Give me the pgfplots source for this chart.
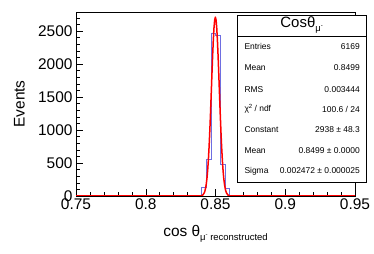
\documentclass[border=0pt]{standalone}
\usepackage{pgfplots}
\pgfplotsset{compat=1.18}
\usepackage{fontspec}
\setmainfont{Liberation Sans}
\begin{document}
\begin{tikzpicture}
\path[use as bounding box] (0,0) rectangle (374bp,254bp);
\begin{axis}[
  at={(76bp,58bp)}, anchor=south west,
  scale only axis, width=279bp, height=184bp,
  xmin=0.75, xmax=0.95, ymin=0, ymax=2788,
  axis line style={black, line width=0.7bp},
  xtick={0.75,0.8,0.85,0.9,0.95},
  xticklabels={0.75,0.8,0.85,0.9,0.95},
  ytick={0,500,1000,1500,2000,2500},
  yticklabels={0,500,1000,1500,2000,2500},
  minor x tick num=4,
  minor ytick={100,200,300,400,600,700,800,900,1100,1200,1300,1400,1600,1700,1800,1900,2100,2200,2300,2400,2600,2700},
  tick align=inside, xtick pos=bottom, ytick pos=left,
  major tick length=7bp, minor tick length=3.5bp,
  tick style={black, line width=0.5bp},
  /pgf/number format/assume math mode=true,
  tick label style={font=\fontsize{15.5}{17}\selectfont},
  xticklabel style={yshift=1bp},
  xlabel={cos θ\raisebox{-4.5bp}{\fontsize{9.5}{10}\selectfont μ\raisebox{4bp}{\fontsize{6}{6}\selectfont -} reconstructed}},
  xlabel style={at={(axis description cs:0.5,0)}, anchor=base, yshift=-40bp, font=\fontsize{15.5}{17}\selectfont},
  ylabel={Events},
  ylabel style={at={(axis description cs:-0.2025,0.5)}, anchor=center, font=\fontsize{15.5}{17}\selectfont},
  clip=true,
]
\addplot[const plot mark left, color={rgb,255:red,110;green,110;blue,225}, line width=0.6bp] coordinates {
(0.75,0) (0.83667,5) (0.84,125) (0.84333,560) (0.84667,2465) (0.85,2440) (0.85333,485) (0.85667,110) (0.86,10) (0.86333,0) (0.95,0)
};
\addplot[color=red, line width=1.5bp, line join=round] coordinates {
(0.75,0) (0.8379,0.3) (0.8399,4.6) (0.8409,15) (0.8419,46) (0.8424,75) (0.8429,119) (0.8434,183) (0.8439,273) (0.8444,394) (0.8449,550) (0.8454,745) (0.8459,977) (0.8464,1241) (0.8469,1527) (0.8474,1819) (0.8479,2100) (0.8484,2348) (0.8489,2543) (0.8494,2667) (0.8499,2710) (0.8504,2667) (0.8509,2543) (0.8514,2348) (0.8519,2100) (0.8524,1819) (0.8529,1527) (0.8534,1241) (0.8539,977) (0.8544,745) (0.8549,550) (0.8554,394) (0.8559,273) (0.8564,183) (0.8569,119) (0.8574,75) (0.8579,46) (0.8589,15) (0.8599,4.6) (0.8619,0.3) (0.95,0)
};
\end{axis}
% stats box
\draw[black, line width=0.7bp, fill=white] (237.3bp,72bp) rectangle (366bp,239bp);
\draw[black, line width=0.7bp] (237.3bp,218bp) -- (366bp,218bp);
\node[font=\fontsize{15}{16}\selectfont, inner sep=0pt] at (301.6bp,229bp) {Cosθ\raisebox{-3.5bp}{\fontsize{9.5}{9.5}\selectfont μ\raisebox{3.5bp}{\fontsize{6}{6}\selectfont -}}};
\begin{scope}[every node/.style={font=\fontsize{8.5}{9}\selectfont, inner sep=0pt}]
\node[anchor=west] at (244.3bp,207.3bp) {Entries};
\node[anchor=east] at (360bp,207.3bp) {6169};
\node[anchor=west] at (244.3bp,186.3bp) {Mean};
\node[anchor=east] at (360bp,186.3bp) {0.8499};
\node[anchor=west] at (244.3bp,164.7bp) {RMS};
\node[anchor=east] at (360bp,164.7bp) {0.003444};
\node[anchor=west] at (244.3bp,145bp) {χ\raisebox{3bp}{\fontsize{6}{6}\selectfont 2} / ndf};
\node[anchor=east] at (360bp,145bp) {100.6 / 24};
\node[anchor=west] at (244.3bp,124.7bp) {Constant};
\node[anchor=east] at (360bp,124.7bp) {2938 ± 48.3};
\node[anchor=west] at (244.3bp,103.3bp) {Mean};
\node[anchor=east] at (360bp,103.3bp) {0.8499 ± 0.0000};
\node[anchor=west] at (244.3bp,83bp) {Sigma};
\node[anchor=east] at (360bp,83bp) {0.002472 ± 0.000025};
\end{scope}
\end{tikzpicture}
\end{document}
